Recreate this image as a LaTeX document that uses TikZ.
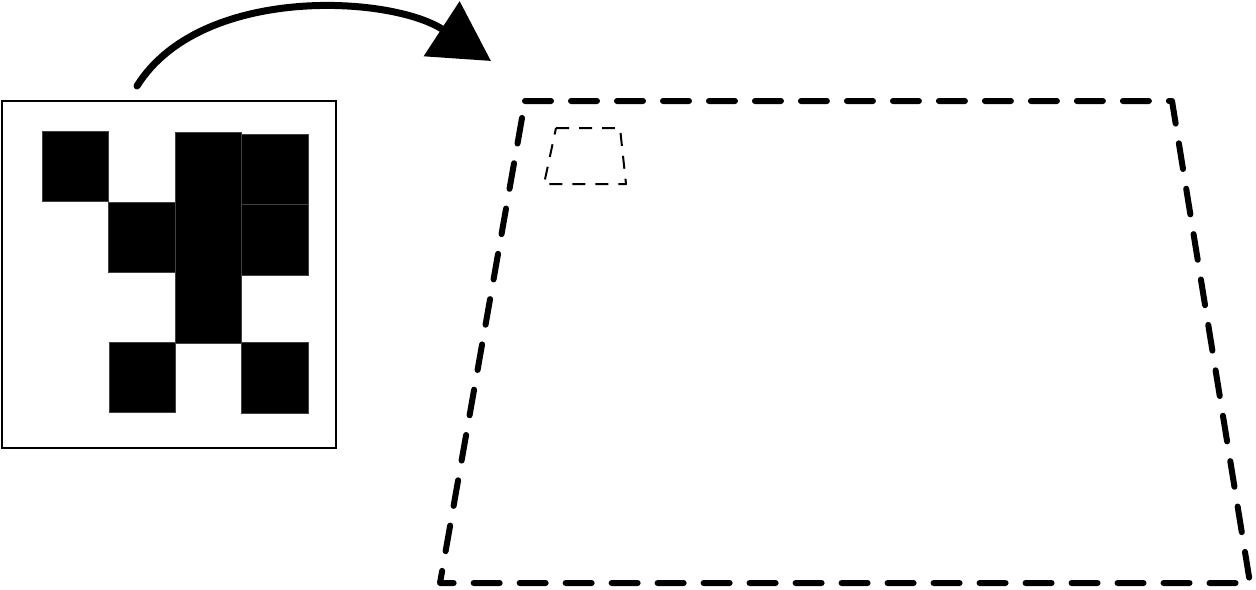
\documentclass[tikz,border=0pt]{standalone}
\usetikzlibrary{arrows.meta, positioning}
\tikzset{
  cell/.style={fill=black, draw=black!75, line width=0.4pt},
  gridbox/.style={draw, line width=0.034cm, inner sep=0pt, outer sep=0pt, minimum width=6.68cm, minimum height=6.94cm},
  bigdash/.style={line width=0.12cm, dash pattern=on 0.52cm off 0.4cm, line cap=round, line join=round},
  smalldash/.style={line width=0.04cm, dash pattern=on 0.26cm off 0.2cm, line join=round},
  bigarrow/.style={line width=0.14cm, line cap=round, -{Triangle[length=1.18cm, width=1.28cm]}},
}
\begin{document}
\begin{tikzpicture}[x=0.02cm, y=-0.02cm]
\useasboundingbox (0,0) rectangle (1256,589);

% --- pattern box ---
\node[gridbox] (grid) at (169,274.5) {};
\fill[cell] (42,131) rectangle ++(66.5,70.5);
\fill[cell] (108.5,202) rectangle ++(66.5,70.5);
\fill[cell] (175,132.5) rectangle ++(66.5,211);
\fill[cell] (241.5,134) rectangle ++(66.5,70.5);
\fill[cell] (241.5,204.5) rectangle ++(66.5,71);
\fill[cell] (109,342) rectangle ++(66.5,70.5);
\fill[cell] (241.5,342.5) rectangle ++(66.5,70.5);

% --- arrow ---
\coordinate (src) at (137,86);
\coordinate (dst) at (491,61);
\draw[bigarrow] (src) .. controls (200,-15) and (390,-5) .. (dst);

% --- target area ---
\draw[bigdash] (525,101) -- (1172,101) -- (1250,583) -- (440,583) -- cycle;
\draw[smalldash] (556,128) -- (620,128) -- (626,184) -- (544,184) -- cycle;

\end{tikzpicture}
\end{document}
